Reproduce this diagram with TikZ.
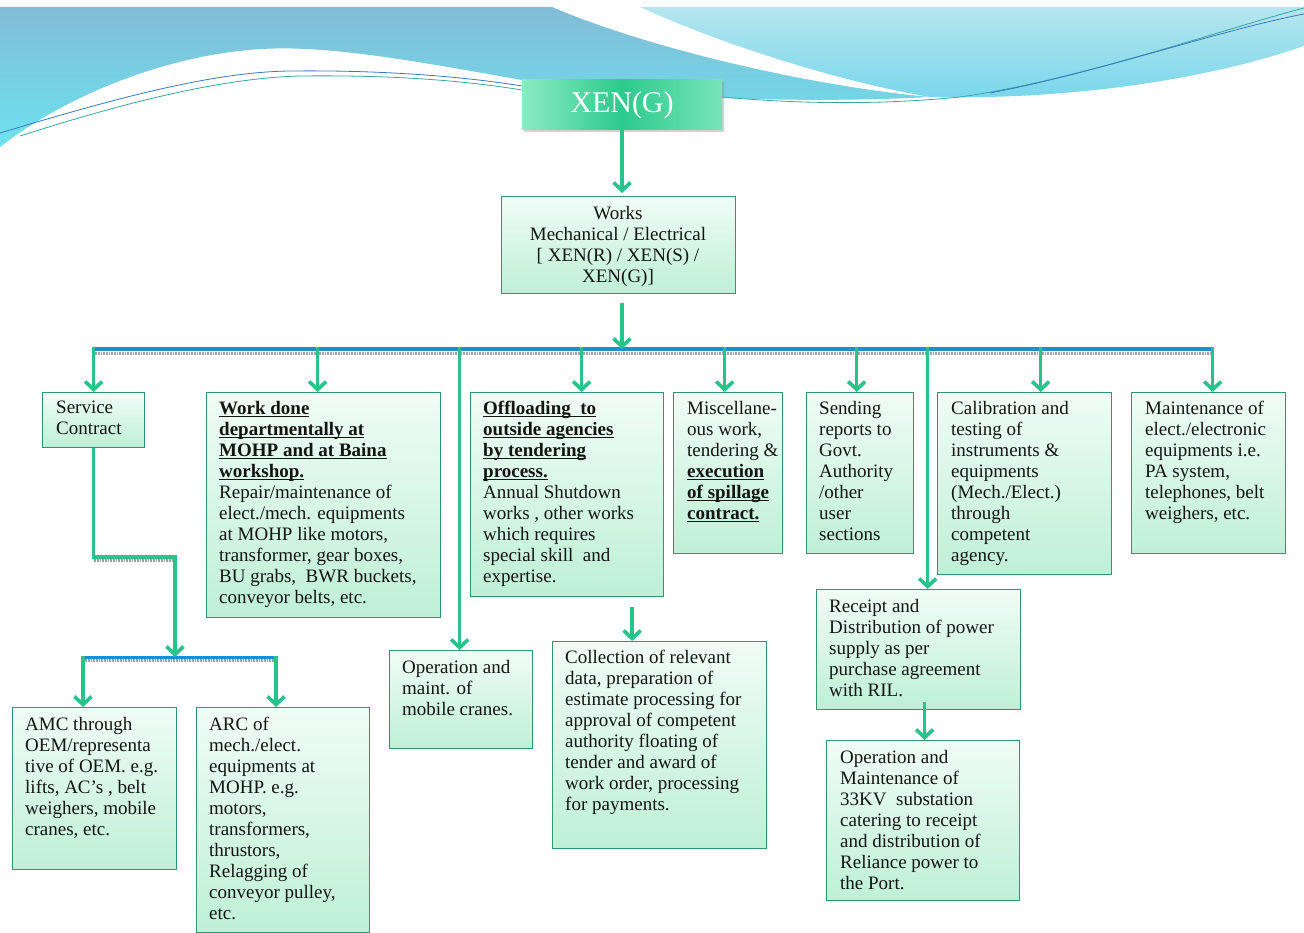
\documentclass[tikz,border=0pt]{standalone}
\usepackage{fontspec}
\setmainfont{Liberation Serif}
\usetikzlibrary{arrows.meta,shadows,calc}

\definecolor{arrowgreen}{RGB}{38,196,138}
\definecolor{boxline}{RGB}{48,150,112}
\definecolor{boxtop}{RGB}{240,252,246}
\definecolor{boxbot}{RGB}{190,240,214}
\definecolor{barblue}{RGB}{22,146,212}
\definecolor{bargray}{RGB}{160,160,160}
\definecolor{inktext}{RGB}{20,20,20}
\definecolor{wavedeep}{RGB}{130,188,215}
\definecolor{wavecyan}{RGB}{108,226,238}
\definecolor{wavelight}{RGB}{182,230,238}
\definecolor{wavemid}{RGB}{120,214,236}
\definecolor{strokeblue}{RGB}{60,120,190}
\definecolor{stroketeal}{RGB}{55,168,160}
\definecolor{xenedge}{RGB}{140,234,194}
\definecolor{xenedgeR}{RGB}{120,228,186}
\definecolor{xencore}{RGB}{44,202,140}

% bold, underlined heading line (descenders do not push the rule down)
\newcommand\ulb[1]{\textbf{\underline{\raisebox{0pt}[\height][0pt]{#1}}}}

\begin{document}
\begin{tikzpicture}[x=1pt,y=-1pt,
  box/.style={draw=boxline, line width=1.3pt, top color=boxtop, bottom color=boxbot,
    inner sep=0pt, anchor=north west},
  txt/.style={anchor=north west, align=left, inner sep=0pt, text=inktext,
    font=\fontsize{19}{21}\selectfont},
  arr/.style={draw=arrowgreen, line width=3.4pt,
    -{Straight Barb[length=8pt,width=17pt,line width=3.6pt]}},
  conn/.style={draw=arrowgreen, line width=3.4pt},
  bluebar/.style={draw=barblue, line width=4pt},
  hatch/.style={draw=bargray, line width=3pt, dash pattern=on 0.8pt off 0.8pt},
  thin/.style={line width=0.8pt}
]
\useasboundingbox (0,0) rectangle (1304,933);
\fill[white] (0,0) rectangle (1304,933);

% ---- wave banner ----
\shade[top color=wavelight, bottom color=wavemid]
  (640,7) -- (1304,7) -- (1304,46)
  .. controls (1200,82) and (1060,100) .. (930,97)
  .. controls (820,78) and (700,35) .. (640,7) -- cycle;
\shade[top color=wavedeep, bottom color=wavecyan]
  (0,7) -- (552,7)
  .. controls (640,45) and (800,85) .. (930,97)
  .. controls (800,104) and (640,98) .. (522,80)
  .. controls (420,62) and (330,45) .. (262,49)
  .. controls (160,55) and (60,100) .. (0,147) -- cycle;
\draw[thin, draw=strokeblue]
  (0,133) .. controls (110,100) and (210,72) .. (290,71)
  .. controls (380,70) and (460,76) .. (522,86);
\draw[thin, draw=stroketeal]
  (20,136) .. controls (120,104) and (220,78) .. (300,76)
  .. controls (390,75) and (460,80) .. (522,90);
\draw[thin, draw=stroketeal]
  (722,97) .. controls (800,104) and (880,105) .. (960,97)
  .. controls (1080,80) and (1220,30) .. (1304,8);
\draw[thin, draw=strokeblue]
  (990,93) .. controls (1100,72) and (1220,30) .. (1304,14);

% ---- top node ----
\node[minimum width=200pt, minimum height=50pt, inner sep=0pt,
  left color=xenedge, right color=xenedgeR, middle color=xencore,
  drop shadow={opacity=0.35, shadow xshift=1.5pt, shadow yshift=-2pt},
  text=white, font=\fontsize{30}{32}\selectfont] (xen) at (622,105) {XEN(G)};

\node[box, minimum width=234pt, minimum height=97pt] (works) at (501,196) {};
\node[txt, anchor=center, align=center] (works-t) at (618,246)
  {Works\\Mechanical / Electrical\\{}[ XEN(R) / XEN(S) /\\XEN(G)]};

% ---- second level boxes ----
\node[box, minimum width=102pt, minimum height=55pt] (svc) at (42,392) {};
\node[box, minimum width=234pt, minimum height=225pt] (wdone) at (206,392) {};
\node[box, minimum width=193pt, minimum height=204pt] (offl) at (470,392) {};
\node[box, minimum width=109pt, minimum height=161pt] (misc) at (673,392) {};
\node[box, minimum width=107pt, minimum height=161pt] (send) at (806,392) {};
\node[box, minimum width=174pt, minimum height=182pt] (calib) at (937,392) {};
\node[box, minimum width=154pt, minimum height=161pt] (maint) at (1131,392) {};

% ---- lower boxes ----
\node[box, minimum width=143pt, minimum height=98pt] (crane) at (389,650) {};
\node[box, minimum width=214pt, minimum height=207pt] (coll) at (552,641) {};
\node[box, minimum width=204pt, minimum height=120pt] (rec) at (816,589) {};
\node[box, minimum width=193pt, minimum height=160pt] (op33) at (826,740) {};
\node[box, minimum width=164pt, minimum height=162pt] (amc) at (12,707) {};
\node[box, minimum width=173pt, minimum height=225pt] (arc) at (196,707) {};

% ---- texts ----
\node[txt] (svc-t) at ($(svc.north west)+(14,9)$) {Service\\Contract};
\node[txt] (wdone-t) at ($(wdone.north west)+(13,9)$)
  {\ulb{Work done}\\\ulb{departmentally at}\\\ulb{MOHP and at Baina}\\\ulb{workshop.}\\
   Repair/maintenance of\\elect./mech. equipments\\at MOHP like motors,\\
   transformer, gear boxes,\\BU grabs,~ BWR buckets,\\conveyor belts, etc.};
\node[txt] (offl-t) at ($(offl.north west)+(13,9)$)
  {\ulb{Offloading~ to}\\\ulb{outside agencies}\\\ulb{by tendering}\\\ulb{process.}\\
   Annual Shutdown\\works , other works\\which requires\\special skill~ and\\expertise.};
\node[txt] (misc-t) at ($(misc.north west)+(14,9)$)
  {Miscellane-\\ous work,\\tendering \&\\\ulb{execution}\\\ulb{of spillage}\\\ulb{contract.}};
\node[txt] (send-t) at ($(send.north west)+(13,9)$)
  {Sending\\reports to\\Govt.\\Authority\\/other\\user\\sections};
\node[txt] (calib-t) at ($(calib.north west)+(14,9)$)
  {Calibration and\\testing of\\instruments \&\\equipments\\(Mech./Elect.)\\through\\competent\\agency.};
\node[txt] (maint-t) at ($(maint.north west)+(14,9)$)
  {Maintenance of\\elect./electronic\\equipments i.e.\\PA system,\\telephones, belt\\weighers, etc.};
\node[txt] (crane-t) at ($(crane.north west)+(13,10)$)
  {Operation and\\maint. of\\mobile cranes.};
\node[txt] (coll-t) at ($(coll.north west)+(13,9)$)
  {Collection of relevant\\data, preparation of\\estimate processing for\\approval of competent\\
   authority floating of\\tender and award of\\work order, processing\\for payments.};
\node[txt] (rec-t) at ($(rec.north west)+(13,10)$)
  {Receipt and\\Distribution of power\\supply as per\\purchase agreement\\with RIL.};
\node[txt] (op33-t) at ($(op33.north west)+(14,10)$)
  {Operation and\\Maintenance of\\33KV~ substation\\catering to receipt\\and distribution of\\
   Reliance power to\\the Port.};
\node[txt] (amc-t) at ($(amc.north west)+(13,10)$)
  {AMC through\\OEM/representa\\tive of OEM. e.g.\\lifts, AC’s , belt\\weighers, mobile\\cranes, etc.};
\node[txt] (arc-t) at ($(arc.north west)+(13,10)$)
  {ARC of\\mech./elect.\\equipments at\\MOHP. e.g.\\motors,\\transformers,\\thrustors,\\
   Relagging of\\conveyor pulley,\\etc.};

% ---- distribution bar ----
\coordinate (barL) at (93,349);
\coordinate (barR) at (1212,349);
\draw[hatch] ([yshift=-4.5pt]barL) -- ([yshift=-4.5pt]barR);
\draw[bluebar] (barL) -- (barR);

\draw[arr] (xen.south) -- ([yshift=3pt]xen.south |- works.north);
\draw[arr] ([yshift=-9pt]works.south -| xen.south) -- (xen.south |- barL);

\draw[arr] ([yshift=2pt]svc.north |- barL) -- (svc.north);
\draw[arr] ([xshift=-6pt,yshift=2pt]wdone.north |- barL) -- ([xshift=-6pt]wdone.north);
\draw[arr] ([xshift=-1.5pt,yshift=2pt]crane.north |- barL) -- ([xshift=-1.5pt]crane.north);
\draw[arr] ([xshift=14.5pt,yshift=2pt]offl.north |- barL) -- ([xshift=14.5pt]offl.north);
\draw[arr] ([xshift=-3.5pt,yshift=2pt]misc.north |- barL) -- ([xshift=-3.5pt]misc.north);
\draw[arr] ([xshift=-3.5pt,yshift=2pt]send.north |- barL) -- ([xshift=-3.5pt]send.north);
\draw[arr] ([xshift=9pt,yshift=2pt]rec.north |- barL) -- ([xshift=9pt]rec.north);
\draw[arr] ([xshift=16pt,yshift=2pt]calib.north |- barL) -- ([xshift=16pt]calib.north);
\draw[arr] ([xshift=4pt,yshift=2pt]maint.north |- barL) -- ([xshift=4pt]maint.north);

% ---- service contract branch ----
\coordinate (scbend) at (175,557);
\coordinate (subL) at (83,657);
\coordinate (subR) at (276,657);
\coordinate (subM) at (175,657);
\draw[hatch] ([yshift=-3.5pt]svc.south |- scbend) -- ([yshift=-3.5pt]scbend);
\draw[conn] (svc.south) |- (scbend);
\draw[hatch, line width=2.5pt] ([yshift=-3.5pt]subL) -- ([yshift=-3.5pt]subR);
\draw[bluebar, line width=3pt] (subL) -- (subR);
\draw[arr] ([yshift=1.7pt]scbend) -- (subM);
\draw[arr] ([yshift=1.5pt]subL) -- (subL |- amc.north);
\draw[arr] ([yshift=1.5pt]subR) -- (subR |- arc.north);

% ---- follow-on steps ----
\draw[arr] ([xshift=65pt,yshift=-10pt]offl.south) -- ([xshift=65pt]offl.south |- coll.north);
\draw[arr] ([xshift=6pt,yshift=8pt]rec.south) -- ([xshift=6pt]rec.south |- op33.north);
\end{tikzpicture}
\end{document}
